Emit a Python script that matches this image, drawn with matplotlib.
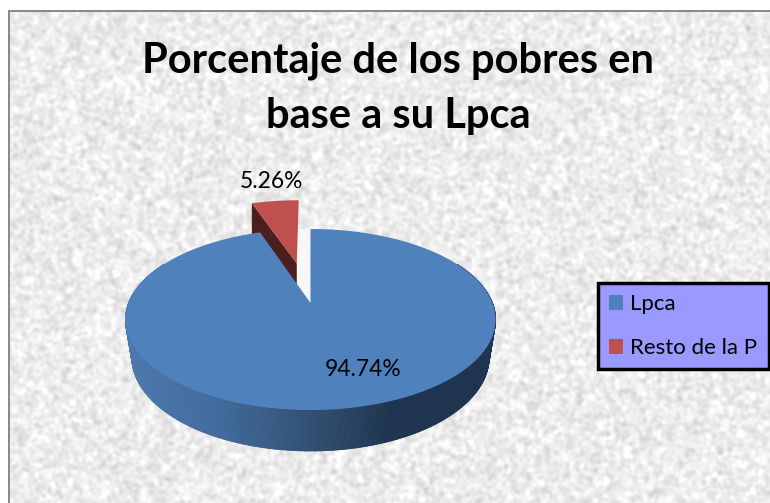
import numpy as np
import matplotlib
matplotlib.use("Agg")
import matplotlib.pyplot as plt
from matplotlib.patches import Polygon, Rectangle, Patch
from matplotlib.collections import PolyCollection
from matplotlib.colors import LinearSegmentedColormap

title_lines = ["Porcentaje de los pobres en", "base a su Lpca"]
categories = ["Lpca", "Resto de la P"]
percentages = [94.74, 5.26]
label_texts = ["94.74%", "5.26%"]
colors = ["#4f81bd", "#c0504d"]

W, H = 770, 503
fig = plt.figure(figsize=(W / 100, H / 100), dpi=100, facecolor="white")
ax = fig.add_axes([0, 0, 1, 1])
ax.set_xlim(0, W)
ax.set_ylim(H, 0)
ax.axis("off")

# paper-like background texture
rng = np.random.default_rng(7)
tw, th = W - 10, H - 11
noise = rng.normal(size=(th, tw))
fy = np.fft.fftfreq(th)[:, None]
fx = np.fft.rfftfreq(tw)[None, :]
fine = np.fft.irfft2(np.fft.rfft2(noise) * np.exp(-(fx**2 + fy**2) * 2 * (np.pi * 1.7) ** 2), s=noise.shape)
fine /= fine.std()
tex = np.clip(0.925 + 0.032 * fine, 0.78, 1.0)
ax.imshow(tex, cmap="gray", vmin=0, vmax=1, extent=(10, W, H, 11), aspect="auto", zorder=0, interpolation="bilinear")
ax.add_patch(Rectangle((8, 10), W - 8, 1.6, color="#8a8a8a", lw=0, zorder=1))
ax.add_patch(Rectangle((8, 10), 2.4, H - 10, color="#8a8a8a", lw=0, zorder=1))
ax.set_xlim(0, W)
ax.set_ylim(H, 0)

# perspective projection of the pie disc
X0, Y0, BX, AY, K, DEPTH = 310.5, 303.0, 182.0, 87.5, 0.182, 41.0
EXPLODE = 0.5
BOTTOM_SCALE = 0.965


def project(u, v):
    w = 1 + K * v
    return X0 + BX * u / w, Y0 - AY * v / w


def depth(v):
    return DEPTH * np.sqrt(0.818 / (1 + K * v))


fracs = np.array(percentages) / np.sum(percentages)
edges = np.concatenate([[0.0], np.cumsum(fracs)]) * 2 * np.pi


def sector(t0, t1, off=(0.0, 0.0), n=240):
    t = np.linspace(t0, t1, n)
    u = np.concatenate([[off[0]], off[0] + np.sin(t)])
    v = np.concatenate([[off[1]], off[1] + np.cos(t)])
    return u, v


# gap left by the exploded slice
u, v = sector(edges[1], edges[2], n=40)
ax.add_patch(Polygon(np.c_[project(u, v)], color="#f7f7f7", lw=0, zorder=2))

# exploded slice
mid = 0.5 * (edges[1] + edges[2])
off = (EXPLODE * np.sin(mid), EXPLODE * np.cos(mid))
u, v = sector(edges[1], edges[2], off, n=40)
px, py = project(u, v)
cut = [(px[0], py[0]), (px[1], py[1]),
       (px[1], py[1] + depth(v[1])), (px[0], py[0] + depth(v[0]))]
ax.add_patch(Polygon(cut, color="#4a1f1d", lw=0, zorder=3))
ax.add_patch(Polygon(np.c_[px, py], color=colors[1], lw=0, zorder=4))

# main slice: side wall with a horizontal gradient, then the top
side_cmap = LinearSegmentedColormap.from_list(
    "side", [(0.0, "#4d79ae"), (0.25, "#416a9b"), (0.42, "#36587f"),
             (0.56, "#2c4968"), (0.72, "#1e3350"), (1.0, "#1f344f")])
t = np.linspace(np.pi / 2 - 0.5, 3 * np.pi / 2 + 0.5, 500)
sx, sy = project(np.sin(t), np.cos(t))
d = depth(np.cos(t))
bx = X0 + (sx - X0) * BOTTOM_SCALE
by = sy + d
quads = [[(sx[i], sy[i]), (sx[i + 1], sy[i + 1]), (bx[i + 1], by[i + 1]), (bx[i], by[i])]
         for i in range(len(t) - 1)]
shade = (0.5 * (sx[:-1] + sx[1:]) - sx.min()) / (sx.max() - sx.min())
ax.add_collection(PolyCollection(quads, facecolors=side_cmap(shade), edgecolors=side_cmap(shade),
                                 linewidths=0.6, zorder=5))
u, v = sector(edges[0], edges[1])
ax.add_patch(Polygon(np.c_[project(u, v)], color=colors[0], lw=0, zorder=6))

# texts
font = "Lato"
for line, y in zip(title_lines, (61, 116)):
    ax.text(398, y, line, ha="center", va="center", family=font, weight="bold",
            fontsize=30, color="black", zorder=8)
ax.text(363, 370, label_texts[0], ha="center", va="center", family=font, fontsize=16.4, zorder=8)
ax.text(271, 182, label_texts[1], ha="center", va="center", family=font, fontsize=16.4, zorder=8)

handles = [Patch(facecolor=c, edgecolor="none", label=l) for c, l in zip(colors, categories)]
leg = ax.legend(handles=handles, loc="upper left",
                bbox_to_anchor=(598 / W, 1 - 283 / H), bbox_transform=fig.transFigure,
                borderaxespad=0, frameon=True, fancybox=False, facecolor="#9999ff",
                edgecolor="black", framealpha=1, handlelength=0.64, handleheight=0.64,
                handletextpad=0.32, labelspacing=1.09, borderpad=0.5, prop={"family": font, "size": 16})
leg.get_frame().set_linewidth(2.5)
leg.set_zorder(9)

fig.savefig("out.png", dpi=100, facecolor="white")
